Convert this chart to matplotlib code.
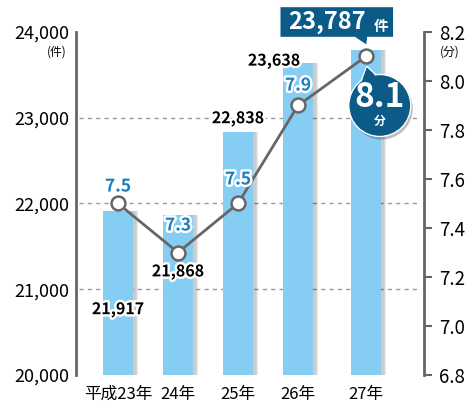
import matplotlib

matplotlib.use("Agg")
import matplotlib.pyplot as plt
import matplotlib.patheffects as pe
from matplotlib.patches import Polygon, Circle
from matplotlib.transforms import IdentityTransform

plt.rcParams["font.family"] = ["Noto Sans CJK JP", "DejaVu Sans"]

# data
years = ["平成23年", "24年", "25年", "26年", "27年"]
cases = [21917, 21868, 22838, 23638, 23787]
minutes = [7.5, 7.3, 7.5, 7.9, 8.1]
case_labels = ["21,917", "21,868", "22,838", "23,638", "23,787"]

xpos = [0, 1, 2, 3, 4.13]
BAR = "#86cdf3"
NAVY = "#0b5a87"
BLUE = "#1a7fc0"
GREY = "#666666"

W, H = 467, 411
fig = plt.figure(figsize=(W / 100, H / 100), dpi=100)
ax = fig.add_axes([76 / W, 1 - 375 / H, (424 - 76) / W, (375 - 32) / H])
ax2 = ax.twinx()

# bars with a soft shadow
for k, a in enumerate([0.05, 0.07, 0.09]):
    ax.bar([x + 0.05 + 0.02 * k for x in xpos], cases, width=0.5,
           color="black", alpha=a, zorder=1, linewidth=0)
ax.bar(xpos, cases, width=0.5, color=BAR, zorder=2, linewidth=0)
ax.set_ylim(20000, 24000)
ax.set_xlim(-0.7, 5.1)
ax.set_yticks([20000, 21000, 22000, 23000, 24000])
ax.set_yticklabels(["20,000", "21,000", "22,000", "23,000", "24,000"], fontsize=13)
ax.tick_params(axis="y", length=0, pad=5)
ax.set_xticks(xpos)
ax.set_xticklabels(years, fontsize=12)
ax.tick_params(axis="x", length=0, pad=8)
for y in [21000, 22000, 23000]:
    ax.axhline(y, color="#999999", lw=1, ls=(0, (3, 3)), zorder=0.5,
               xmin=0.01, xmax=0.98)
for s in ["top", "bottom", "right"]:
    ax.spines[s].set_visible(False)
ax.spines["left"].set_color(GREY)
ax.spines["left"].set_linewidth(2)

# line
ax2.plot(xpos, minutes, color=GREY, lw=2, marker="o", ms=10,
         mfc="white", mec=GREY, mew=1.8, zorder=5)
ax2.set_ylim(6.8, 8.2)
ax2.set_yticks([6.8, 7.0, 7.2, 7.4, 7.6, 7.8, 8.0, 8.2])
ax2.set_yticklabels(["6.8", "7.0", "7.2", "7.4", "7.6", "7.8", "8.0", "8.2"], fontsize=13.5)
ax2.tick_params(axis="y", length=6, width=1.5, color=GREY, pad=5)
for s in ["top", "bottom", "left"]:
    ax2.spines[s].set_visible(False)
ax2.spines["right"].set_color(GREY)
ax2.spines["right"].set_linewidth(2)

# unit labels
fig.text(57 / W, 1 - 52 / H, "(件)", fontsize=8.5, ha="center", va="center")
fig.text(450 / W, 1 - 52 / H, "(分)", fontsize=8.5, ha="center", va="center")

stroke = [pe.withStroke(linewidth=3.5, foreground="white")]

# value labels (offsets in pixels from the data point)
case_off = [(0, -99), (0, -57), (0, 13), (-24, 2)]
min_off = [(0, 17), (0, 27), (0, 24), (0, 20)]
for i in range(4):
    dx, dy = case_off[i]
    ax.annotate(case_labels[i], (xpos[i], cases[i]), xytext=(dx, dy),
                textcoords="offset pixels", ha="center", va="center",
                fontsize=11.5, fontweight="bold", color="black",
                path_effects=stroke, zorder=6)
for i in range(4):
    dx, dy = min_off[i]
    ax2.annotate(f"{minutes[i]:.1f}", (xpos[i], minutes[i]), xytext=(dx, dy),
                 textcoords="offset pixels", ha="center", va="center",
                 fontsize=12.5, fontweight="bold", color=BLUE,
                 path_effects=stroke, zorder=6)

# callouts anchored at the last point
px, py = ax2.transData.transform((xpos[4], minutes[4]))


def P(dx, dy):
    return (px + dx, py - dy)


ident = IdentityTransform()
box = Polygon([P(-86, -50), P(28, -50), P(28, -19), P(2, -19), P(1, -11),
               P(-11, -19), P(-86, -19)], closed=True, transform=ident,
              facecolor=NAVY, edgecolor="white", lw=1, zorder=10)
fig.patches.append(box)
fig.text(*P(-39, -34), "23,787", transform=ident, color="white", fontsize=17,
         fontweight="bold", ha="center", va="center", zorder=11)
fig.text(*P(15, -30), "件", transform=ident, color="white", fontsize=10.5,
         fontweight="bold", ha="center", va="center", zorder=11)

shadow = Circle(P(16, 52), 31, transform=ident, facecolor="black", alpha=0.25,
                lw=0, zorder=9)
fig.patches.append(shadow)
ptr = Polygon([P(-6, 28), P(12, 20), P(1, 10)], closed=True, transform=ident,
              facecolor=NAVY, edgecolor="white", lw=1, zorder=10)
fig.patches.append(ptr)
circ = Circle(P(14, 49), 31, transform=ident, facecolor=NAVY, edgecolor="white",
              lw=1, zorder=10)
fig.patches.append(circ)
ptr2 = Polygon([P(-5, 28), P(11, 21), P(1, 11)], closed=True, transform=ident,
               facecolor=NAVY, lw=0, zorder=10.5)
fig.patches.append(ptr2)
fig.text(*P(14, 41), "8.1", transform=ident, color="white", fontsize=24,
         fontweight="bold", ha="center", va="center", zorder=11)
fig.text(*P(14, 65), "分", transform=ident, color="white", fontsize=8.5,
         fontweight="bold", ha="center", va="center", zorder=11)

fig.savefig("out.png", dpi=100)
